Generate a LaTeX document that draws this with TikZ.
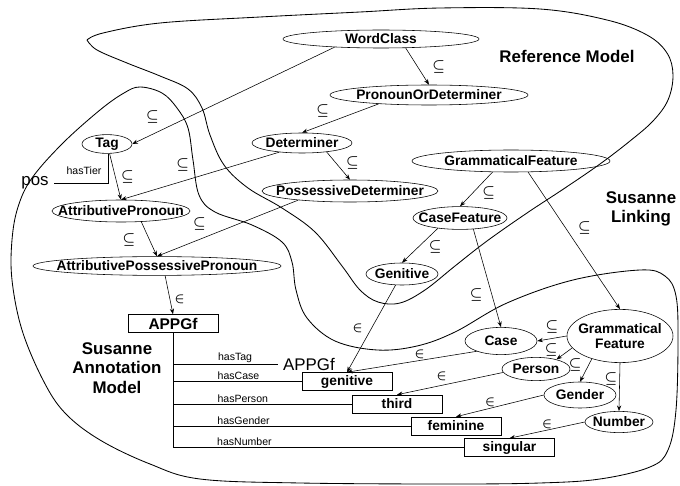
\documentclass[tikz,border=0pt]{standalone}
\usepackage{amsmath, amssymb}
\usepackage{fontspec}
\setmainfont{Liberation Sans}
\usepackage{tikz}
\usetikzlibrary{positioning, shapes.geometric, arrows.meta}

\begin{document}
\begin{tikzpicture}[x=0.025cm, y=-0.025cm, >={Stealth[length=4pt, width=3pt]},
  cls/.style={draw, ellipse, inner xsep=-12pt, inner ysep=-1pt, font=\bfseries\fontsize{9.8}{11}\selectfont},
  tagbox/.style={draw, rectangle, minimum width=2.25cm, minimum height=0.45cm, inner sep=0pt, font=\bfseries\fontsize{9.8}{11}\selectfont},
  sub/.style={inner sep=0pt, font=\fontsize{10}{10}\selectfont},
  mem/.style={inner sep=0pt, font=\fontsize{9}{9}\selectfont},
  rel/.style={inner sep=1pt, font=\fontsize{7.5}{8}\selectfont},
  region/.style={align=center, font=\bfseries\fontsize{12}{14}\selectfont},
  blob/.style={line width=0.6pt}]
\useasboundingbox (0,0) rectangle (680,486);

% model outlines
\draw[blob] plot[smooth, tension=0.6] coordinates {(87,40) (103,33) (160,23) (260,17) (360,12) (440,8) (540,9) (607,20) (647,35) (667,53) (673,75) (668,100) (653,121) (630,141) (600,164) (565,188) (527,213) (487,241) (455,266) (425,290) (400,303) (378,302) (360,290) (342,266) (315,232) (282,208) (248,188) (224,165) (210,135) (202,108) (188,89) (160,76) (127,63) (97,50) (87,40)};
\draw[blob] plot[smooth cycle, tension=0.6] coordinates {(140,87) (162,93) (177,108) (188,128) (193,160) (199,195) (215,212) (252,225) (282,242) (292,262) (296,290) (307,318) (335,341) (377,350) (417,346) (455,332) (507,303) (573,280) (640,270) (665,276) (676,296) (678,340) (676,410) (668,450) (650,467) (600,479) (540,483) (450,484) (300,483) (200,479) (150,464) (100,440) (65,413) (43,380) (22,330) (12,280) (12,240) (18,207) (32,178) (63,143) (100,110) (124,93)};

% classes
\node (wordclass) [cls, minimum width=4.9cm, minimum height=0.45cm] at (381,39) {WordClass};
\node (pronordet) [cls, minimum width=4.95cm, minimum height=0.5cm] at (429,95) {PronounOrDeterminer};
\node (tag) [cls, minimum width=1.25cm, minimum height=0.47cm] at (107,144) {Tag};
\node (determiner) [cls, minimum width=2.5cm, minimum height=0.5cm] at (302,143) {Determiner};
\node (possdet) [cls, minimum width=4.4cm, minimum height=0.55cm] at (350,191) {PossessiveDeterminer};
\node (attrpron) [cls, minimum width=3.45cm, minimum height=0.55cm] at (121,211) {AttributivePronoun};
\node (attrposspron) [cls, minimum width=6.2cm, minimum height=0.47cm] at (157,266) {AttributivePossessivePronoun};
\node (gramfeat) [cls, minimum width=4.95cm, minimum height=0.55cm] at (511,161) {GrammaticalFeature};
\node (casefeat) [cls, minimum width=2.35cm, minimum height=0.57cm] at (460,218) {CaseFeature};
\node (genitive) [cls, minimum width=1.8cm, minimum height=0.55cm] at (402,274) {Genitive};
\node (case) [cls, minimum width=1.8cm, minimum height=0.68cm] at (501,341) {Case};
\node (gramfeat2) [cls, align=center, minimum width=2.65cm, minimum height=1.33cm] at (620,336) {Grammatical\\Feature};
\node (person) [cls, minimum width=1.7cm, minimum height=0.58cm] at (536,369) {Person};
\node (gender) [cls, minimum width=1.8cm, minimum height=0.65cm] at (580,395) {Gender};
\node (number) [cls, minimum width=1.7cm, minimum height=0.53cm] at (619,422) {Number};

% annotation
\node (appgf) [tagbox, font=\bfseries\fontsize{11}{12}\selectfont] at (173,323.5) {APPGf};
\node (genbox) [tagbox] at (347,381.5) {genitive};
\node (thirdbox) [tagbox] at (397,404) {third};
\node (feminbox) [tagbox] at (456,426) {feminine};
\node (singbox) [tagbox] at (509.5,447.5) {singular};
\node (postxt) [font=\fontsize{12}{14}\selectfont] at (35,183) {pos};
\node (apptxt) [font=\fontsize{12}{14}\selectfont] at (309,364) {APPGf};

\node (refmodel) [region] at (567,56) {Reference Model};
\node (linking) [region] at (641,209) {Susanne\\Linking};
\node (annotmodel) [region] at (117,368) {Susanne\\Annotation\\Model};

% subclass links
\draw[->] (wordclass.-20) -- node[sub, pos=0.53, right=10pt] {$\boldsymbol{\subseteq}$} (pronordet.north);
\draw[->] (wordclass.190) -- node[sub, pos=0.9, above=7.5pt] {$\boldsymbol{\subseteq}$} (tag.east);
\draw[->] (pronordet.190) -- node[sub, pos=0.73, above=5pt] {$\boldsymbol{\subseteq}$} (determiner.north);
\draw[->] (determiner.-20) -- node[sub, pos=0.4, right=7pt] {$\boldsymbol{\subseteq}$} (possdet.north);
\draw[->] (determiner.202) -- node[sub, pos=0.61, above=7pt] {$\boldsymbol{\subseteq}$} (attrpron.north);
\draw[->] (tag.-75) -- node[sub, pos=0.5, right=4pt] {$\boldsymbol{\subseteq}$} (attrpron.north);
\draw[->] (attrpron.-28) -- node[sub, pos=0.53, left=10pt] {$\boldsymbol{\subseteq}$} (attrposspron.north);
\draw[->] (possdet.190) -- node[sub, pos=0.7, above=6pt] {$\boldsymbol{\subseteq}$} (attrposspron.north);
\draw[->] (gramfeat.211) -- node[sub, pos=0.6, right=6.5pt] {$\boldsymbol{\subseteq}$} (casefeat.north);
\draw[->] (gramfeat.-33) -- node[sub, pos=0.41, right=8.5pt] {$\boldsymbol{\subseteq}$} (gramfeat2.north);
\draw[->] (casefeat.205) -- node[sub, pos=0.53, right=7pt] {$\boldsymbol{\subseteq}$} (genitive.north);
\draw[->] (casefeat.-40) -- node[sub, pos=0.67, left=6.5pt] {$\boldsymbol{\subseteq}$} (case.north);
\draw[->] (gramfeat2.west) -- node[sub, midway, above=3.5pt] {$\boldsymbol{\subseteq}$} (case.east);
\draw[->] (gramfeat2.194) -- node[sub, pos=0.6, left=3.5pt, yshift=3.5pt] {$\boldsymbol{\subseteq}$} (person.25);
\draw[->] (gramfeat2.219) -- node[sub, pos=0.25, left=5pt] {$\boldsymbol{\subseteq}$} (gender.north);
\draw[->] (gramfeat2.south) -- node[sub, pos=0.33, left=1.5pt] {$\boldsymbol{\subseteq}$} (number.north);

% instance links
\draw[->] (attrposspron.-50) -- node[mem, pos=0.62, right=3pt] {$\boldsymbol{\in}$} (appgf.north);
\draw[->] (genitive.240) -- node[mem, pos=0.5, left=6pt] {$\boldsymbol{\in}$} (genbox.north);
\draw[->] (case.203) -- node[mem, pos=0.44, above=1pt] {$\boldsymbol{\in}$} (genbox.north);
\draw[->] (person.186) -- node[mem, pos=0.58, above=3pt] {$\boldsymbol{\in}$} (thirdbox.north);
\draw[->] (gender.west) -- node[mem, pos=0.61, above=1pt] {$\boldsymbol{\in}$} (feminbox.north);
\draw[->] (number.west) -- node[mem, pos=0.5, above=1pt] {$\boldsymbol{\in}$} (singbox.north);

% properties
\draw (tag.-80) |- node[rel, pos=0.5, above left, xshift=-4pt, yshift=5pt] {hasTier} (postxt.east);
\draw (appgf.south) |- node[rel, pos=0.706, above right] {hasTag} (apptxt.west);
\draw (appgf.south) |- node[rel, pos=0.667, above right] {hasCase} (genbox.west);
\draw (appgf.south) |- node[rel, pos=0.62, above right] {hasPerson} (thirdbox.west);
\draw (appgf.south) |- node[rel, pos=0.59, above right] {hasGender} (feminbox.west);
\draw (appgf.south) |- node[rel, pos=0.573, above right] {hasNumber} (singbox.west);
\end{tikzpicture}
\end{document}
